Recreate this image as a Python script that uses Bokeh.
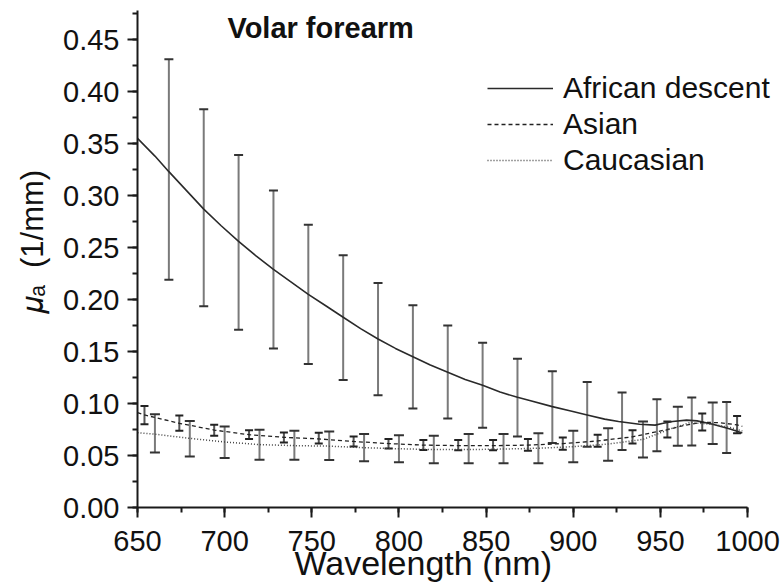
from bokeh.plotting import figure
from bokeh.models import (ColumnDataSource, Whisker, TeeHead, SingleIntervalTicker,
                          NumeralTickFormatter, Legend, LegendItem, Label, Range1d)
from bokeh.embed import file_html
from bokeh.resources import INLINE

# ---- data ----
afr_line_x = [650, 660, 668, 678, 688, 698, 708, 718, 728, 738, 748, 758, 768, 778, 788, 798,
              808, 818, 828, 838, 848, 858, 868, 875, 888, 898, 908, 918, 926, 938, 947, 951,
              957, 965, 971, 980, 990, 997]
afr_line_y = [0.355, 0.338, 0.323, 0.305, 0.287, 0.271, 0.256, 0.242, 0.229, 0.217, 0.205,
              0.194, 0.183, 0.172, 0.162, 0.153, 0.145, 0.137, 0.130, 0.123, 0.1175, 0.111,
              0.106, 0.103, 0.097, 0.093, 0.089, 0.085, 0.0827, 0.080, 0.0792, 0.0808,
              0.0827, 0.084, 0.0833, 0.080, 0.0754, 0.0716]

asi_line_x = [650, 654, 674, 694, 714, 734, 754, 774, 794, 814, 834, 854, 874, 894, 914, 934,
              954, 964, 974, 984, 994, 997]
asi_line_y = [0.0913, 0.089, 0.081, 0.0745, 0.070, 0.0675, 0.066, 0.0635, 0.0615, 0.060,
              0.0595, 0.0595, 0.060, 0.0615, 0.064, 0.068, 0.075, 0.079, 0.082, 0.0815,
              0.0795, 0.078]

cau_line_x = [650, 660, 680, 700, 720, 740, 760, 780, 800, 820, 840, 860, 880, 900, 920, 940,
              956, 967, 980, 990, 997]
cau_line_y = [0.072, 0.0705, 0.0665, 0.063, 0.0605, 0.0595, 0.059, 0.0575, 0.0565, 0.0557,
              0.0557, 0.0562, 0.057, 0.0585, 0.061, 0.0655, 0.0757, 0.0817, 0.080, 0.077,
              0.0735]

afr_bar_x = [668, 688, 708, 728, 748, 768, 788, 808, 828, 848, 868, 888, 908, 928, 948, 968, 988]
afr_bar_hi = [0.431, 0.383, 0.339, 0.305, 0.272, 0.2427, 0.216, 0.1945, 0.175, 0.1584, 0.143,
              0.131, 0.1207, 0.1105, 0.104, 0.1057, 0.1015]
afr_bar_lo = [0.219, 0.1935, 0.171, 0.153, 0.138, 0.1226, 0.108, 0.0951, 0.0856, 0.0766,
              0.0683, 0.062, 0.0584, 0.0553, 0.054, 0.0597, 0.0524]

asi_bar_x = [654, 674, 694, 714, 734, 754, 774, 794, 814, 834, 854, 874, 894, 914, 934, 954,
             974, 994]
asi_bar_hi = [0.0977, 0.0884, 0.0795, 0.0744, 0.0722, 0.0718, 0.0683, 0.0658, 0.0648, 0.0648,
              0.0650, 0.0658, 0.0674, 0.0700, 0.0744, 0.0827, 0.0904, 0.0881]
asi_bar_lo = [0.080, 0.0738, 0.069, 0.0658, 0.0626, 0.0616, 0.0587, 0.0568, 0.0553, 0.0550,
              0.0550, 0.0546, 0.0556, 0.0584, 0.0616, 0.0674, 0.0741, 0.0714]

cau_bar_x = [660, 680, 700, 720, 740, 760, 780, 800, 820, 840, 860, 880, 900, 920, 940, 960, 980]
cau_bar_hi = [0.0897, 0.0833, 0.0779, 0.0747, 0.0738, 0.0731, 0.0706, 0.0696, 0.069, 0.0706,
              0.0706, 0.0715, 0.0738, 0.0763, 0.0827, 0.097, 0.101]
cau_bar_lo = [0.053, 0.049, 0.0476, 0.046, 0.046, 0.0457, 0.0444, 0.0434, 0.0425, 0.0425,
              0.0425, 0.0425, 0.0434, 0.045, 0.048, 0.0594, 0.061]

series_names = ["African descent", "Asian", "Caucasian"]
title_text = "Volar forearm"
NB = "\u00a0"
x_label = "Wavelength (nm)" + NB * 8
y_label = NB * 4 + "\U0001D707\u2090" + NB * 2 + "(1/mm)"

FONT = "Liberation Sans"

p = figure(width=784, height=587, x_range=Range1d(650, 1021.2), y_range=Range1d(0, 0.478),
           output_backend="svg", toolbar_location=None,
           min_border_left=137, min_border_right=0, min_border_top=10, min_border_bottom=80)
p.outline_line_color = None
p.grid.visible = False
p.background_fill_color = "white"

p.xaxis.ticker = SingleIntervalTicker(interval=50, num_minor_ticks=2)
p.yaxis.ticker = SingleIntervalTicker(interval=0.05, num_minor_ticks=2)
p.yaxis.formatter = NumeralTickFormatter(format="0.00")
p.xaxis.bounds = (650, 1000)
for ax in (p.xaxis, p.yaxis):
    ax.axis_line_width = 2
    ax.axis_line_color = "#1a1a1a"
    ax.major_tick_line_width = 2
    ax.minor_tick_line_width = 2
    ax.major_tick_line_color = "#1a1a1a"
    ax.minor_tick_line_color = "#1a1a1a"
    ax.major_tick_out = 10
    ax.major_tick_in = 0
    ax.minor_tick_out = 5
    ax.minor_tick_in = 0
    ax.major_label_text_font = FONT
    ax.major_label_text_font_size = "29px"
    ax.major_label_text_color = "#111111"
    ax.axis_label_text_font = FONT
    ax.axis_label_text_font_style = "normal"
    ax.axis_label_text_color = "#111111"
p.yaxis.major_label_standoff = 8
p.xaxis.major_label_standoff = 13
p.xaxis.axis_label = x_label
p.xaxis.axis_label_text_font_size = "34px"
p.xaxis.axis_label_standoff = -10
p.yaxis.axis_label = y_label
p.yaxis.axis_label_text_font_size = "31px"
p.yaxis.axis_label_standoff = 10

# error bars
def add_bars(xs, hi, lo, color, head_color, size):
    src = ColumnDataSource(dict(x=xs, upper=hi, lower=lo))
    w = Whisker(base="x", upper="upper", lower="lower", source=src, dimension="height",
                line_color=color, line_width=2,
                upper_head=TeeHead(size=size, line_color=head_color, line_width=2),
                lower_head=TeeHead(size=size, line_color=head_color, line_width=2))
    p.add_layout(w)

add_bars(afr_bar_x, afr_bar_hi, afr_bar_lo, "#7a7a7a", "#333333", 9)
add_bars(cau_bar_x, cau_bar_hi, cau_bar_lo, "#7a7a7a", "#333333", 10)
add_bars(asi_bar_x, asi_bar_hi, asi_bar_lo, "#555555", "#222222", 8)

r1 = p.line(afr_line_x, afr_line_y, line_color="#2a2a2a", line_width=1.6)
r2 = p.line(asi_line_x, asi_line_y, line_color="#222222", line_width=1.3, line_dash="4 3")
r3 = p.line(cau_line_x, cau_line_y, line_color="#444444", line_width=1.5, line_dash="1 2")

legend = Legend(items=[LegendItem(label=series_names[0], renderers=[r1]),
                       LegendItem(label=series_names[1], renderers=[r2]),
                       LegendItem(label=series_names[2], renderers=[r3])],
                location=(350, 329), glyph_width=66, glyph_height=36, label_height=36,
                label_standoff=10, spacing=0, padding=0, margin=0,
                border_line_color=None, background_fill_alpha=0,
                label_text_font=FONT, label_text_font_size="30px",
                label_text_color="#111111")
p.add_layout(legend)

# title inside plot
p.add_layout(Label(x=701.6, y=0.4607, text=title_text, text_font=FONT, text_font_size="29px",
                   text_font_style="bold", text_baseline="alphabetic", text_color="#111111"))

open("out.html", "w").write(file_html(p, INLINE))
